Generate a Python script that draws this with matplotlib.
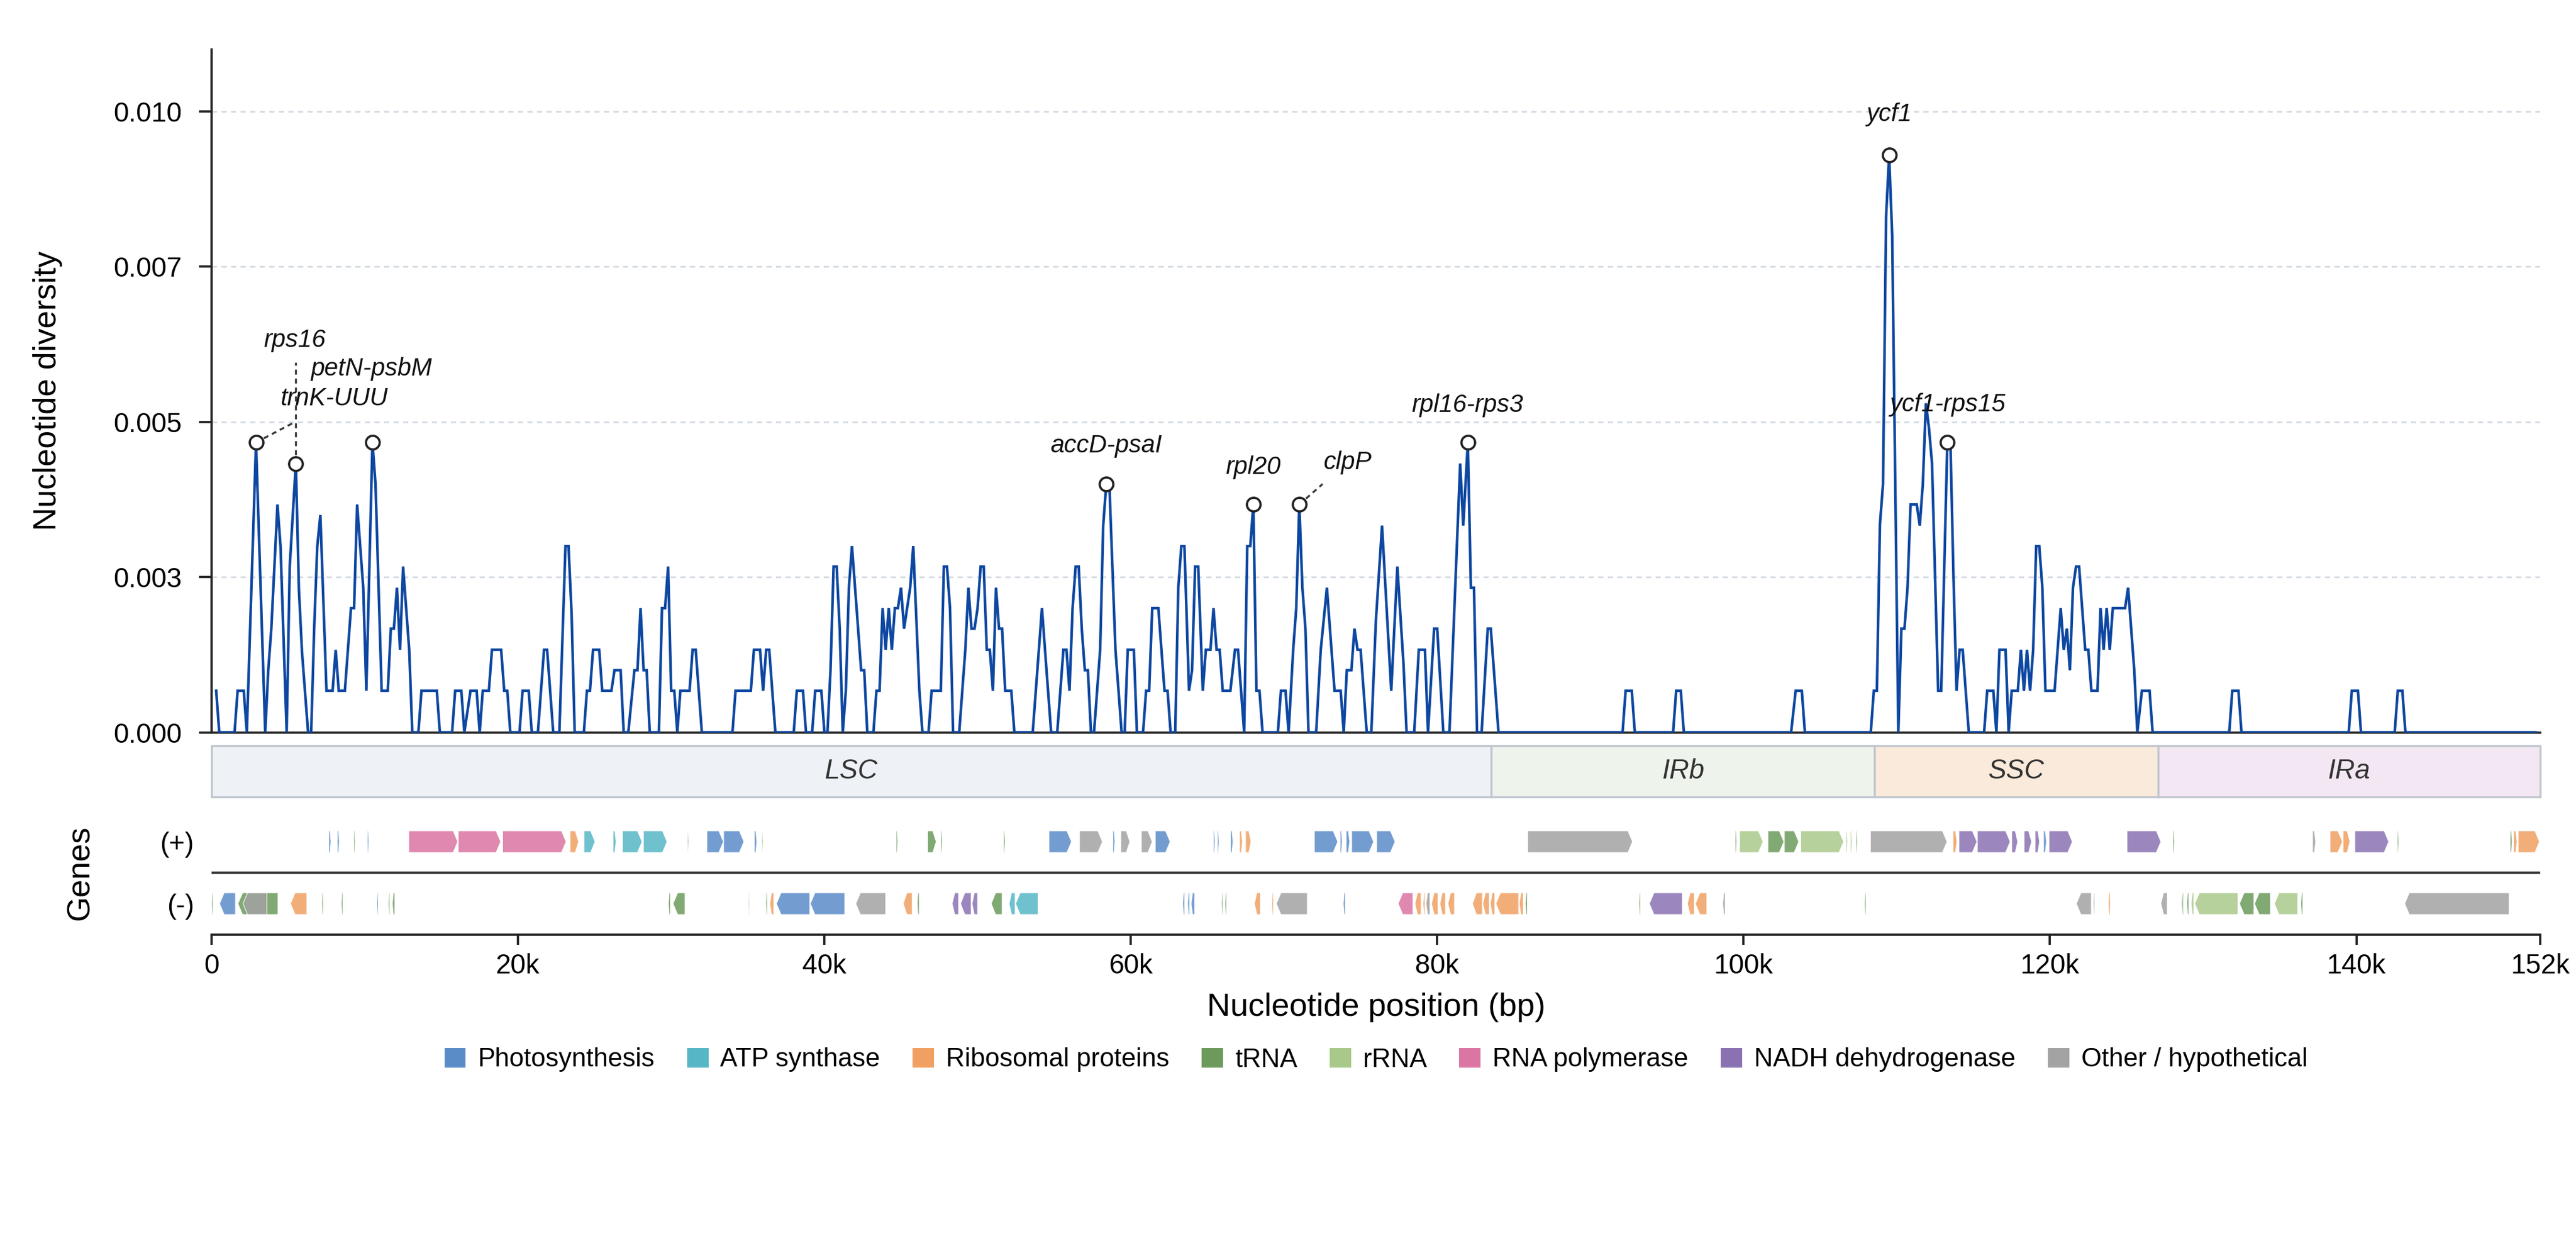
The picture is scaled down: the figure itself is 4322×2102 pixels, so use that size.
import matplotlib
matplotlib.use("Agg")
import matplotlib.pyplot as plt
from matplotlib.patches import Polygon, Rectangle, Patch

plt.rcParams['font.family'] = ['Liberation Sans', 'DejaVu Sans']

# ---------------- data: nucleotide diversity (window midpoints, bp) ----------------
pos = [300, 500, 1500, 1700, 2100, 2300, 2900, 3500, 3700, 3900, 4300, 4500, 4900, 5100, 5500,
       5700, 5900, 6300, 6500, 6700, 6900, 7100, 7300, 7500, 7900, 8100, 8300, 8700, 9100, 9300,
       9500, 9900, 10100, 10500, 10700, 11100, 11500, 11700, 11900, 12100, 12300, 12500, 12900,
       13100, 13500, 13700, 14700, 14900, 15700, 15900, 16300, 16500, 16900, 17300, 17500, 17700,
       18100, 18300, 18900, 19100, 19300, 19500, 20100, 20300, 20700, 20900, 21300, 21700, 21900,
       22300, 22700, 23100, 23300, 23500, 23700, 24300, 24500, 24700, 24900, 25300, 25500, 26100,
       26300, 26700, 26900, 27200, 27600, 27800, 28000, 28200, 28400, 28600, 29200, 29400, 29600,
       29800, 30000, 30200, 30400, 30600, 31200, 31400, 31600, 32000, 34000, 34200, 35200, 35400,
       35800, 36000, 36200, 36400, 36800, 38000, 38200, 38600, 38800, 39200, 39400, 39800, 40000,
       40200, 40400, 40600, 40800, 41000, 41200, 41400, 41600, 41800, 42400, 42600, 42800, 43200,
       43400, 43600, 43800, 44000, 44200, 44400, 44600, 44800, 45000, 45200, 45600, 45800, 46200,
       46400, 46800, 47000, 47600, 47800, 48000, 48200, 48400, 48800, 49200, 49400, 49600, 49800,
       50000, 50200, 50400, 50600, 50800, 51000, 51200, 51400, 51600, 51800, 52200, 52400, 53600,
       54200, 54800, 55200, 55600, 55800, 56000, 56200, 56400, 56600, 56800, 57000, 57200, 57400,
       57600, 58000, 58200, 58400, 58600, 59000, 59400, 59600, 59800, 60200, 60400, 60800, 61000,
       61200, 61400, 61800, 62200, 62400, 62600, 62900, 63100, 63300, 63500, 63800, 64000, 64200,
       64400, 64700, 64900, 65200, 65400, 65600, 65800, 66000, 66500, 66800, 67000, 67400, 67600,
       67800, 68000, 68200, 68400, 68600, 69600, 69800, 70100, 70300, 70600, 70800, 71000, 71200,
       71400, 71600, 72100, 72400, 72800, 73200, 73300, 73700, 73900, 74100, 74400, 74600, 74800,
       75000, 75400, 75700, 76000, 76400, 77000, 77400, 77800, 78000, 78500, 78800, 79200, 79400,
       79800, 80000, 80400, 80800, 81500, 81700, 82000, 82200, 82400, 82600, 82900, 83300, 83500,
       84000, 92100, 92300, 92700, 92900, 95400, 95600, 95900, 96100, 103100, 103400, 103800,
       104000, 108300, 108500, 108700, 108900, 109100, 109300, 109500, 109700, 110100, 110300,
       110500, 110700, 110900, 111300, 111500, 111700, 111900, 112100, 112300, 112700, 112900,
       113300, 113500, 113700, 113900, 114100, 114300, 114700, 115700, 115900, 116300, 116500,
       116700, 117100, 117300, 117500, 117900, 118100, 118300, 118500, 118700, 118900, 119100,
       119300, 119500, 119700, 120300, 120700, 120900, 121100, 121300, 121500, 121700, 121900,
       122100, 122300, 122500, 122700, 123100, 123300, 123500, 123700, 123900, 124100, 124900,
       125100, 125500, 125700, 126000, 126500, 126700, 131700, 131900, 132300, 132500, 139500,
       139700, 140100, 140300, 142500, 142700, 143000, 143200, 151700]
pi = [0.00067, 0, 0, 0.00067, 0.00067, 0, 0.00467, 0, 0.001, 0.00167, 0.00367, 0.003, 0, 0.00267, 0.00433,
      0.0023, 0.0013, 0, 0, 0.0017, 0.003, 0.0035, 0.0021, 0.00067, 0.00067, 0.00133, 0.00067, 0.00067, 0.002, 0.002,
      0.00367, 0.00233, 0.00067, 0.00467, 0.004, 0.00067, 0.00067, 0.00167, 0.00167, 0.00233, 0.00133, 0.00267, 0.00133,
      0, 0, 0.00067, 0.00067, 0, 0, 0.00067, 0.00067, 0, 0.00067, 0.00067, 0, 0.00067,
      0.00067, 0.00133, 0.00133, 0.00067, 0.00067, 0, 0, 0.00067, 0.00067, 0, 0, 0.00133, 0.00133,
      0, 0, 0.003, 0.003, 0.0019, 0, 0, 0.00067, 0.00067, 0.00133, 0.00133, 0.00067, 0.00067,
      0.001, 0.001, 0, 0, 0.001, 0.001, 0.002, 0.001, 0.001, 0, 0, 0.002, 0.002,
      0.00267, 0.00067, 0.00067, 0, 0.00067, 0.00067, 0.00133, 0.00133, 0, 0, 0.00067, 0.00067, 0.00133,
      0.00133, 0.00067, 0.00133, 0.00133, 0, 0, 0.00067, 0.00067, 0, 0, 0.00067, 0.00067, 0,
      0, 0.001, 0.00267, 0.00267, 0.00167, 0, 0.00067, 0.00233, 0.003, 0.001, 0.001, 0, 0,
      0.00067, 0.00067, 0.002, 0.00133, 0.002, 0.00133, 0.002, 0.002, 0.00233, 0.00167, 0.00233, 0.003, 0.00067,
      0, 0, 0.00067, 0.00067, 0.00267, 0.00267, 0.002, 0, 0, 0.00133, 0.00233, 0.00167, 0.00167,
      0.002, 0.00267, 0.00267, 0.00133, 0.00133, 0.00067, 0.00233, 0.00167, 0.00167, 0.00067, 0.00067, 0, 0,
      0.002, 0, 0, 0.00133, 0.00133, 0.00067, 0.002, 0.00267, 0.00267, 0.00167, 0.001, 0.001, 0,
      0, 0.00133, 0.00333, 0.004, 0.004, 0.00133, 0, 0, 0.00133, 0.00133, 0, 0, 0.00067,
      0.00067, 0.002, 0.002, 0.00067, 0.00067, 0, 0, 0.00233, 0.003, 0.003, 0.00067, 0.001, 0.00267,
      0.00267, 0.00067, 0.00133, 0.00133, 0.002, 0.00133, 0.00133, 0.00067, 0.00067, 0.00133, 0.00133, 0, 0.003,
      0.003, 0.00367, 0.00067, 0.00067, 0, 0, 0.00067, 0.00067, 0, 0.00133, 0.002, 0.00367, 0.00233,
      0.00167, 0, 0, 0.00133, 0.00233, 0.001, 0.00067, 0.00067, 0, 0.001, 0.001, 0.00167, 0.00133,
      0.00133, 0, 0, 0.0018, 0.00333, 0.00067, 0.00267, 0.0011, 0, 0, 0.00133, 0.00133, 0,
      0.00167, 0.00167, 0, 0, 0.00433, 0.00333, 0.00467, 0.00233, 0.00233, 0, 0, 0.00167, 0.00167,
      0, 0, 0.00067, 0.00067, 0, 0, 0.00067, 0.00067, 0, 0, 0.00067, 0.00067,
      0, 0, 0.00067, 0.00067, 0.00335, 0.004, 0.0083, 0.0093, 0.008, 0, 0.00167,
      0.00167, 0.00233, 0.00367, 0.00367, 0.00333, 0.004, 0.0053, 0.0049, 0.00433, 0.00067, 0.00067,
      0.00467, 0.00467, 0.0025, 0.00067, 0.00133, 0.00133, 0, 0, 0.00067, 0.00067, 0,
      0.00133, 0.00133, 0, 0.00067, 0.00067, 0.00133, 0.00067, 0.00133, 0.00067, 0.00133, 0.003,
      0.003, 0.00233, 0.00067, 0.00067, 0.002, 0.00133, 0.00167, 0.001, 0.00233, 0.00267, 0.00267,
      0.002, 0.00133, 0.00133, 0.00067, 0.00067, 0.002, 0.00133, 0.002, 0.00133, 0.002, 0.002,
      0.00233, 0.001, 0, 0.00067, 0.00067, 0, 0, 0.00067, 0.00067, 0, 0,
      0.00067, 0.00067, 0, 0, 0.00067, 0.00067, 0, 0]

# ---------------- annotated peaks ----------------
peak_names = ['trnK-UUU', 'rps16', 'petN-psbM', 'accD-psaI', 'rpl20', 'clpP',
              'rpl16-rps3', 'ycf1', 'ycf1-rps15']
peak_x = [2900, 5500, 10500, 58400, 68000, 71000, 82000, 109500, 113300]
peak_y = [0.00467, 0.00433, 0.00467, 0.004, 0.00367, 0.00367, 0.00467, 0.0093, 0.00467]
label_x = [8000, 5430, 10430, 58390, 68000, 74160, 81990, 109490, 113300]
label_y = [0.00537, 0.00631, 0.00585, 0.00461, 0.00427, 0.00435, 0.00527, 0.00995, 0.00528]
# leader lines: (peak name, end x, end y)
leader_names = ['trnK-UUU', 'rps16', 'clpP']
leader_end_x = [5450, 5500, 72520]
leader_end_y = [0.0050, 0.00596, 0.0040]

# ---------------- regions ----------------
region_names = ['LSC', 'IRb', 'SSC', 'IRa']
region_start = [0, 83530, 108540, 127050]
region_end = [83530, 108540, 127050, 152000]
region_colors = ['#eef2f7', '#eef3ec', '#f9eadb', '#f2e7f2']

# ---------------- genes ----------------
categories = ['Photosynthesis', 'ATP synthase', 'Ribosomal proteins', 'tRNA', 'rRNA',
              'RNA polymerase', 'NADH dehydrogenase', 'Other / hypothetical']
cat_colors = ['#5a8cc8', '#56b6c6', '#f0a062', '#6b9a5b', '#a9c98a', '#db75a3', '#8a72b2', '#a3a3a3']

plus_genes = [
    (7650, 7790, 0), (8210, 8340, 0), (9290, 9380, 3), (10170, 10260, 0), (12870, 16070, 5),
    (16100, 18870, 5), (19000, 23140, 5), (23400, 23960, 2), (24310, 25030, 1), (26210, 26400, 1),
    (26820, 28100, 1), (28190, 29730, 1), (31060, 31130, 3), (32330, 33410, 0), (33420, 34750, 0),
    (35430, 35590, 0), (35920, 35990, 3), (44690, 44790, 3), (46740, 47300, 3), (47590, 47690, 3),
    (51700, 51800, 3), (54660, 56130, 0), (56650, 58150, 7), (58830, 58960, 0), (59350, 59940, 7),
    (60690, 61400, 7), (61600, 62570, 0), (65400, 65500, 0), (65660, 65760, 0), (66510, 66670, 0),
    (67100, 67290, 2), (67490, 67850, 2), (71980, 73510, 0), (73670, 73800, 0), (74060, 74290, 0),
    (74420, 75850, 0), (76050, 77250, 0), (85910, 92750, 7), (99450, 99550, 3), (99740, 101270, 4),
    (101590, 102630, 3), (102660, 103600, 3), (103730, 106530, 4), (106690, 106790, 4),
    (106980, 107080, 4), (107340, 107430, 3), (108280, 113280, 7), (113670, 113930, 2),
    (114060, 115230, 6), (115260, 117400, 6), (117500, 117890, 6), (118310, 118800, 6),
    (119030, 119320, 6), (119580, 119770, 0), (119940, 121460, 6), (125030, 127240, 6),
    (128020, 128120, 3), (137140, 137340, 7), (138280, 139090, 2), (139130, 139580, 2),
    (139900, 142110, 6), (142670, 142760, 3), (150040, 150170, 3), (150260, 150490, 2),
    (150560, 151950, 2)]
minus_genes = [
    (0, 90, 3), (520, 1560, 0), (1720, 4330, 3), (2050, 3610, 7), (5150, 6220, 2), (7200, 7300, 3),
    (8470, 8570, 3), (10790, 10880, 0), (11540, 11630, 3), (11800, 11960, 3), (29820, 29950, 3),
    (30120, 30900, 3), (35040, 35100, 3), (36180, 36280, 3), (36440, 36700, 2), (36870, 39050, 0),
    (39080, 41330, 0), (42050, 44000, 7), (45150, 45730, 2), (46060, 46190, 3), (48340, 48760, 6),
    (48890, 49580, 6), (49640, 50000, 6), (50890, 51600, 3), (52060, 52450, 1), (52480, 53950, 1),
    (63390, 63520, 0), (63710, 63840, 0), (63940, 64170, 0), (65930, 66020, 3), (66150, 66250, 3),
    (68070, 68460, 2), (69210, 69310, 2), (69500, 71520, 7), (73870, 74000, 0), (77450, 78420, 5),
    (78550, 78950, 2), (79080, 79200, 2), (79270, 79530, 7), (79630, 80050, 2), (80180, 80540, 2),
    (80700, 81130, 2), (82300, 82950, 2), (82980, 83400, 2), (83470, 83760, 2), (83830, 85320, 2),
    (85360, 85620, 2), (85750, 85880, 3), (93170, 93270, 3), (93850, 96000, 6), (96330, 96780, 2),
    (96850, 97600, 2), (98640, 98800, 7), (107890, 107990, 3), (121720, 122700, 7),
    (122830, 122920, 7), (123800, 123930, 2), (127240, 127660, 7), (128600, 128700, 3),
    (128930, 129060, 3), (129220, 129390, 4), (129450, 132270, 4), (132370, 133310, 3),
    (133350, 134390, 3), (134650, 136170, 4), (136370, 136500, 3), (143150, 149970, 7)]

x_ticks = [0, 20000, 40000, 60000, 80000, 100000, 120000, 140000, 152000]
x_ticklabels = ['0', '20k', '40k', '60k', '80k', '100k', '120k', '140k', '152k']
y_ticks = [0, 0.0025, 0.005, 0.0075, 0.01]
y_ticklabels = ['0.000', '0.003', '0.005', '0.007', '0.010']
genome_len = 152000

# ---------------- figure ----------------
W, H = 4322, 2102
fig = plt.figure(figsize=(W / 300, H / 300), dpi=300)

def fx(px):
    return px / W

def fy(py):
    return 1 - py / H

left, right = 355, 4262
ax = fig.add_axes([fx(left), fy(1228.5), fx(right - left), (1228.5 - 83) / H])
axr = fig.add_axes([fx(left), fy(1337), fx(right - left), 86 / H])
axg = fig.add_axes([fx(left), fy(1568), fx(right - left), 208 / H])

spine_c = '#222222'
line_c = '#0d47a1'

# main panel
ax.plot(pos, pi, color=line_c, lw=1.05, zorder=3, solid_joinstyle='miter')
ax.set_xlim(0, genome_len)
ax.set_ylim(0, 0.011)
ax.set_yticks(y_ticks)
ax.set_yticklabels(y_ticklabels)
ax.set_xticks([])
for s in ['top', 'right']:
    ax.spines[s].set_visible(False)
for s in ['left', 'bottom']:
    ax.spines[s].set_color(spine_c)
    ax.spines[s].set_linewidth(0.9)
ax.tick_params(axis='y', length=5, width=0.9, pad=7, labelsize=11, colors=spine_c, labelcolor='black')
for yt in y_ticks[1:]:
    ax.axhline(yt, color='#d5dbe2', lw=0.7, dashes=(3, 2.5), zorder=1)
ax.set_ylabel('Nucleotide diversity', fontsize=13)
ax.yaxis.set_label_coords(-0.064, 0.5)

# leader lines
for nm, ex, ey in zip(leader_names, leader_end_x, leader_end_y):
    i = peak_names.index(nm)
    ax.plot([peak_x[i], ex], [peak_y[i], ey], color='#3a3a3a', lw=0.8, dashes=(2.5, 2), zorder=4)

ax.plot(peak_x, peak_y, 'o', ms=5.5, mfc='white', mec='#222222', mew=0.9, zorder=5, clip_on=False)
for nm, tx, ty in zip(peak_names, label_x, label_y):
    ax.text(tx, ty, nm, fontsize=10, style='italic', ha='center', va='center', color='#111111', zorder=6)

# region bar
axr.set_xlim(0, genome_len)
axr.set_ylim(0, 1)
axr.axis('off')
for nm, s, e, c in zip(region_names, region_start, region_end, region_colors):
    axr.add_patch(Rectangle((s, 0), e - s, 1, facecolor=c, edgecolor='#bfc5cd', lw=0.8, clip_on=False))
    axr.text((s + e) / 2, 0.5, nm, ha='center', va='center', fontsize=11, style='italic', color='#333333')

# gene track
axg.set_xlim(0, genome_len)
axg.set_ylim(-1, 1)
row_h = 0.175

def arrow(s, e, strand):
    L = e - s
    head = min(300, 0.4 * L)
    yc = 0.5 * strand
    if strand > 0:
        pts = [(s, yc - row_h), (e - head, yc - row_h), (e, yc), (e - head, yc + row_h), (s, yc + row_h)]
    else:
        pts = [(e, yc - row_h), (s + head, yc - row_h), (s, yc), (s + head, yc + row_h), (e, yc + row_h)]
    return pts

for genes, strand in [(plus_genes, 1), (minus_genes, -1)]:
    for s, e, c in genes:
        axg.add_patch(Polygon(arrow(s, e, strand), closed=True, facecolor=cat_colors[c],
                              alpha=0.85, edgecolor='white', lw=0.3))

axg.axhline(0, color='#333333', lw=0.9)
for s in ['top', 'right', 'left']:
    axg.spines[s].set_visible(False)
axg.spines['bottom'].set_color(spine_c)
axg.spines['bottom'].set_linewidth(0.9)
axg.set_yticks([0.5, -0.5])
axg.set_yticklabels(['(+)', '(-)'])
axg.tick_params(axis='y', length=0, pad=7, labelsize=11)
axg.set_xticks(x_ticks)
axg.set_xticklabels(x_ticklabels)
axg.tick_params(axis='x', length=4, width=0.9, pad=3.5, labelsize=11, colors=spine_c, labelcolor='black')
axg.set_ylabel('Genes', fontsize=13)
axg.yaxis.set_label_coords(-0.0499, 0.5)

fig.text(fx((left + right) / 2), fy(1690), 'Nucleotide position (bp)', ha='center', va='center', fontsize=13)

handles = [Patch(facecolor=c, edgecolor='none') for c in cat_colors]
fig.legend(handles, categories, loc='center', bbox_to_anchor=(fx((left + right) / 2), fy(1778)),
           ncol=8, frameon=False, fontsize=10.5, handlelength=0.82, handleheight=0.8,
           handletextpad=0.45, columnspacing=1.25)

fig.savefig('out.png', dpi=300)
